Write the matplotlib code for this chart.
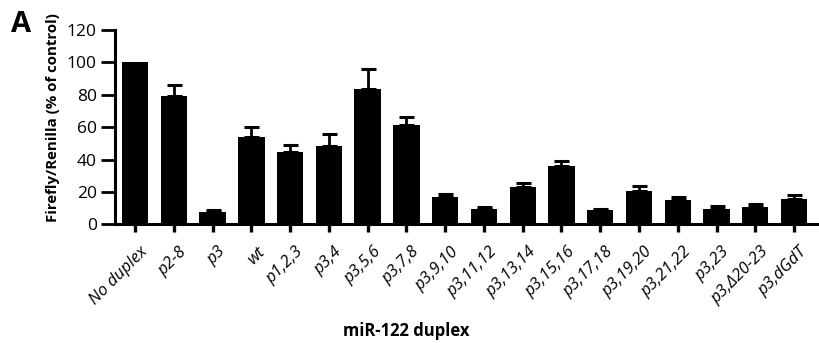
import matplotlib
matplotlib.use("Agg")
import matplotlib.pyplot as plt
import matplotlib.transforms as mtransforms
import numpy as np

# data
labels = ["No duplex", "p2-8", "p3", "wt", "p1,2,3", "p3,4", "p3,5,6", "p3,7,8",
          "p3,9,10", "p3,11,12", "p3,13,14", "p3,15,16", "p3,17,18", "p3,19,20",
          "p3,21,22", "p3,23", "p3,\u039420-23", "p3,dGdT"]
means = [100, 79, 7.6, 53.7, 44.4, 48.5, 83.5, 61.3,
         17, 9.6, 23.2, 35.8, 8.6, 20.7, 15, 9.6, 10.5, 15.4]
sem = [0, 6.8, 1.0, 6.2, 4.8, 7.2, 12.5, 4.9,
       1.5, 1.3, 2.5, 3.5, 1.0, 3.1, 1.7, 1.5, 2.0, 2.5]

plt.rcParams['font.family'] = ['Open Sans', 'DejaVu Sans']

fig = plt.figure(figsize=(8.2, 3.43), dpi=100)
ax = fig.add_axes([0.1402, 0.346, 0.8598, 0.5665])

x = np.arange(len(labels))
m = np.array(means)
e = np.array(sem)
ax.bar(x, m, width=0.68, color="black", zorder=2)
# only upper error bars, skip the control (no error)
has = e > 0
ax.errorbar(x[has], m[has], yerr=[np.zeros(has.sum()), e[has]], fmt="none",
            ecolor="black", elinewidth=2, capsize=5.4, capthick=2.2, zorder=1)

ax.set_ylim(0, 120)
ax.set_xlim(-0.52, 17.67)
ax.set_yticks([0, 20, 40, 60, 80, 100, 120])
ax.set_xticks(x)
ax.set_xticklabels(labels, rotation=45, ha="right", va="top",
                   rotation_mode="anchor", style="italic", fontsize=12)
ax.tick_params(axis="y", labelsize=12.5, length=10, width=2, pad=3)
ax.tick_params(axis="x", length=6, width=2.4, pad=8)
shift = mtransforms.ScaledTranslation(5 / 100, 0, fig.dpi_scale_trans)
for t in ax.get_xticklabels():
    t.set_transform(t.get_transform() + shift)

for s in ["top", "right"]:
    ax.spines[s].set_visible(False)
for s in ["left", "bottom"]:
    ax.spines[s].set_linewidth(2.2)

fig.text(0.065, 1 - 118 / 343, "Firefly/Renilla (% of control)",
         rotation=90, ha="center", va="center", fontsize=10.8, fontweight="bold")
fig.text(406 / 820, 1 - 331 / 343, "miR-122 duplex", ha="center", va="center",
         fontsize=12, fontweight="bold")
fig.text(11 / 820, 1 - 25 / 343, "A", ha="left", va="center",
         fontsize=21, fontweight="bold")

fig.savefig("out.png", dpi=100)
